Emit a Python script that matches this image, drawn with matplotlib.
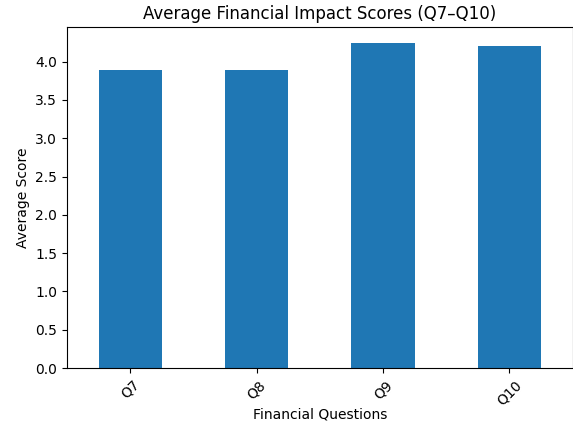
import matplotlib
matplotlib.use("Agg")
import matplotlib.pyplot as plt

categories = ["Q7", "Q8", "Q9", "Q10"]
scores = [3.89, 3.89, 4.24, 4.20]

fig = plt.figure(figsize=(5.73, 4.25), dpi=100)
ax = fig.add_axes([67/573, 1-368/425, (572.5-67)/573, (368-27)/425])
x = list(range(len(categories)))
ax.bar(x, scores, width=0.5, color="#1f77b4")
ax.set_xlim(-0.5, len(categories) - 0.5)
ax.set_xticks(x)
ax.set_xticklabels(categories, rotation=45)
ax.set_title("Average Financial Impact Scores (Q7–Q10)")
ax.set_xlabel("Financial Questions", labelpad=0)
ax.set_ylabel("Average Score")
fig.savefig("out.png", dpi=100)
